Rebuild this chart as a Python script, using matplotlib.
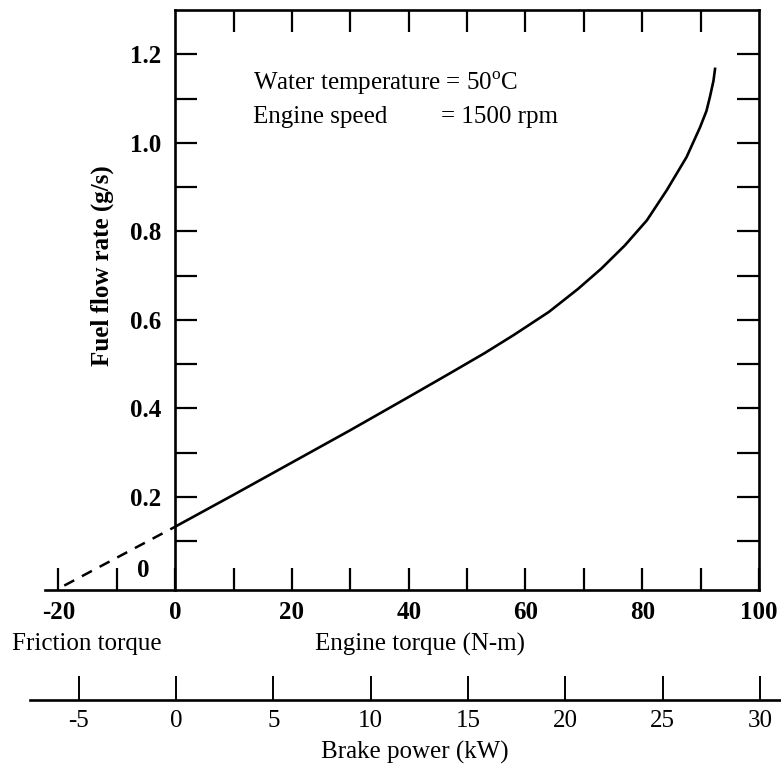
import matplotlib
matplotlib.use('Agg')
import matplotlib.pyplot as plt

# ---------------- data ----------------
torque = [0, 10, 20, 30, 40, 47, 53, 58, 64, 69, 73, 77, 80.8, 84.2, 87.6, 89.9, 91.0, 91.6, 92.2, 92.5]
fuel = [0.133, 0.205, 0.278, 0.351, 0.426, 0.479, 0.525, 0.566, 0.618, 0.670, 0.716, 0.768,
        0.825, 0.893, 0.968, 1.035, 1.072, 1.104, 1.140, 1.170]
friction_torque = [-19, 0]
friction_fuel = [0.0, 0.133]

x_major = [-20, 0, 20, 40, 60, 80, 100]
x_minor = [-10, 10, 30, 50, 70, 90]
x_top = [10, 20, 30, 40, 50, 60, 70, 80, 90]
y_major = [0.2, 0.4, 0.6, 0.8, 1.0, 1.2]
y_minor = [0.1, 0.3, 0.5, 0.7, 0.9, 1.1]
power_ticks = [-5, 0, 5, 10, 15, 20, 25, 30]

# ---------------- style ----------------
plt.rcParams['font.family'] = ['Liberation Serif', 'DejaVu Serif']
plt.rcParams['font.size'] = 18
plt.rcParams['mathtext.fontset'] = 'custom'
plt.rcParams['mathtext.rm'] = 'Liberation Serif'

W, H = 781, 767
fig = plt.figure(figsize=(W / 100, H / 100), dpi=100)

def fx(px):
    return px / W

def fy(py):
    return 1 - py / H

# main axes (extends left to show the friction region)
left_px, right_px, top_px, bot_px = 45, 759, 10, 590
ax = fig.add_axes([fx(left_px), fy(bot_px), fx(right_px - left_px), (bot_px - top_px) / H])
ax.set_xlim(-22.3, 100)
ax.set_ylim(-0.01, 1.30)
ax.patch.set_alpha(0)

spine_w = 1.9
for s in ax.spines.values():
    s.set_linewidth(spine_w)
ax.spines['left'].set_position(('data', 0))
ax.spines['top'].set_bounds(0, 100)

ax.plot(torque, fuel, color='black', lw=1.9, solid_capstyle='butt', solid_joinstyle='round')
ax.plot(friction_torque, friction_fuel, color='black', lw=1.8,
        linestyle=(0, (4.5, 3.5)), clip_on=False)

# ticks
ax.set_xticks(x_major)
ax.set_xticks(x_minor, minor=True)
ax.set_yticks(y_major)
ax.set_yticks(y_minor, minor=True)
ax.set_yticklabels([f'{v:.1f}' for v in y_major], fontweight='bold')
ax.set_xticklabels([str(v) for v in x_major], fontweight='bold')
ax.tick_params(axis='both', which='both', direction='in', length=16, width=1.6,
               top=False, right=True)
ax.tick_params(axis='x', which='both', pad=8)
ax.tick_params(axis='y', which='both', pad=10)

# top ticks only over 0..100
sec = ax.secondary_xaxis('top')
sec.set_xticks(x_top)
sec.set_xticklabels([])
sec.tick_params(direction='in', length=16, width=1.6)
sec.spines['top'].set_visible(False)

ax.text(-5.5, 0.035, '0', ha='center', va='center', fontweight='bold')

# annotation block
ax.text(fx(253) * W / (right_px - left_px) - (left_px / (right_px - left_px)), (bot_px - 90) / (bot_px - top_px),
        r'Water temperature = 50$^{\mathrm{o}}$C', transform=ax.transAxes,
        ha='left', va='baseline')
ax.text((253 - left_px) / (right_px - left_px), (bot_px - 123) / (bot_px - top_px),
        'Engine speed', transform=ax.transAxes, ha='left', va='baseline')
ax.text((441 - left_px) / (right_px - left_px), (bot_px - 123) / (bot_px - top_px),
        '= 1500 rpm', transform=ax.transAxes, ha='left', va='baseline')

# axis titles
fig.text(fx(87), fy(644), 'Friction torque', ha='center', va='center')
fig.text(fx(420), fy(644), 'Engine torque (N-m)', ha='center', va='center')
fig.text(fx(102), fy(266), 'Fuel flow rate (g/s)', rotation=90, ha='center', va='center',
         fontweight='bold')

# brake power axis
bp_left, bp_right, bp_y = 30, 781, 700
px_per_kw = (760 - 176) / 30.0
ax2 = fig.add_axes([fx(bp_left), fy(bp_y), fx(bp_right - bp_left), 0.04])
ax2.set_xlim((bp_left - 176) / px_per_kw, (bp_right - 176) / px_per_kw)
ax2.set_ylim(0, 1)
ax2.patch.set_alpha(0)
for k in ['top', 'left', 'right']:
    ax2.spines[k].set_visible(False)
ax2.spines['bottom'].set_linewidth(spine_w)
ax2.set_yticks([])
ax2.set_xticks(power_ticks)
ax2.set_xticklabels([str(v) for v in power_ticks])
ax2.tick_params(axis='x', direction='in', length=17, width=1.4, pad=7)

fig.text(fx(415), fy(752), 'Brake power (kW)', ha='center', va='center')

fig.savefig('out.png', dpi=100)
